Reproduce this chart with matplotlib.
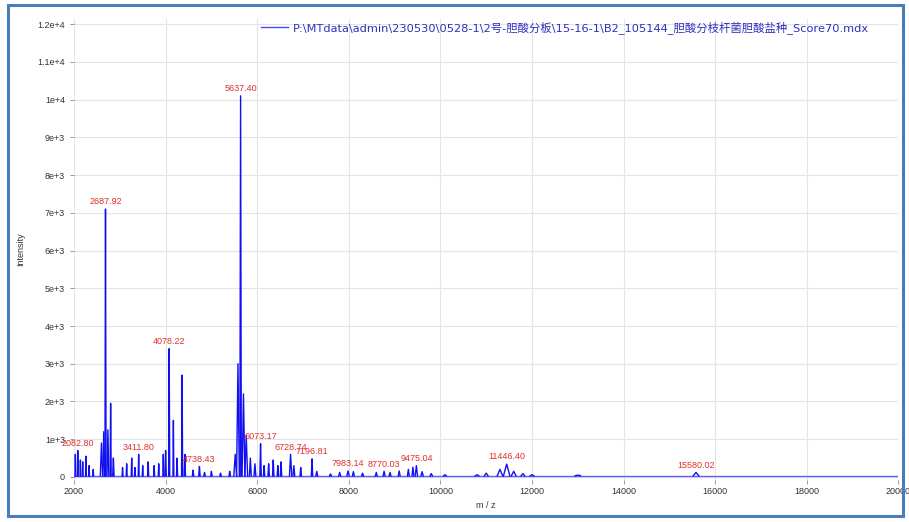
import numpy as np
import matplotlib
matplotlib.use('Agg')
import matplotlib.pyplot as plt
from matplotlib.patches import Rectangle
from matplotlib.ticker import FixedLocator, FixedFormatter

plt.rcParams['font.family'] = ['Liberation Sans', 'Noto Sans CJK SC', 'DejaVu Sans']

# peak list: m/z, intensity, half width (Da)
peak_mz = [2030, 2082.8, 2140, 2190, 2260, 2330, 2420,
           2600, 2650, 2687.92, 2740, 2800, 2860,
           3060, 3150, 3260, 3330, 3411.8, 3500, 3620, 3750, 3850, 3950, 4000,
           4078.22, 4170, 4250, 4360, 4420, 4600, 4738.43, 4850, 5000, 5200, 5400,
           5520, 5580, 5637.4, 5700, 5760, 5850, 5950,
           6073.17, 6150, 6250, 6350, 6450, 6520, 6728.74, 6800, 6950, 7196.81, 7300,
           7600, 7800, 7983.14, 8100, 8300, 8600, 8770.03, 8900, 9100, 9300, 9400,
           9475.04, 9600, 9800, 10100, 10800, 11000, 11300, 11446.4, 11600, 11800, 12000,
           13000, 15580.02]
peak_int = [600, 700, 450, 400, 550, 300, 200,
            900, 1200, 7100, 1250, 1950, 500,
            250, 350, 500, 250, 600, 300, 400, 300, 350, 600, 700,
            3400, 1500, 500, 2700, 600, 180, 280, 120, 150, 100, 150,
            600, 3000, 10100, 2200, 1100, 500, 350,
            880, 300, 350, 450, 300, 400, 600, 300, 250, 480, 150,
            80, 120, 160, 140, 100, 120, 150, 120, 160, 200, 260,
            300, 140, 90, 60, 60, 100, 200, 340, 150, 90, 60,
            50, 120]
peak_w = [8, 8, 8, 8, 8, 8, 8,
          25, 20, 12, 20, 12, 15,
          10, 10, 10, 10, 10, 10, 10, 10, 10, 10, 15,
          12, 10, 12, 12, 15, 15, 15, 15, 15, 15, 15,
          30, 30, 16, 30, 30, 20, 20,
          15, 15, 15, 15, 15, 15, 25, 20, 15, 15, 20,
          20, 20, 25, 20, 20, 20, 20, 20, 20, 20, 20,
          25, 25, 25, 30, 40, 40, 60, 70, 50, 40, 40,
          60, 60]

# labelled peaks
label_mz = [2082.8, 2687.92, 3411.8, 4078.22, 4738.43, 5637.4,
            6073.17, 6728.74, 7196.81, 7983.14, 8770.03, 9475.04, 11446.4, 15580.02]
label_int = [700, 7100, 600, 3400, 280, 10100,
             880, 600, 480, 160, 150, 300, 340, 120]
label_txt = ['2082.80', '2687.92', '3411.80', '4078.22', '4738.43', '5637.40',
             '6073.17', '6728.74', '7196.81', '7983.14', '8770.03', '9475.04',
             '11446.40', '15580.02']

x_ticks = [2000, 4000, 6000, 8000, 10000, 12000, 14000, 16000, 18000, 20000]
y_ticks = [0, 1000, 2000, 3000, 4000, 5000, 6000, 7000, 8000, 9000, 10000, 11000, 12000]
y_labels = ['0', '1e+3', '2e+3', '3e+3', '4e+3', '5e+3', '6e+3', '7e+3', '8e+3',
            '9e+3', '1e+4', '1.1e+4', '1.2e+4']

file_name = ('P:\\MTdata\\admin\\230530\\0528-1\\2号-胆酸分板\\15-16-1\\B2_105144_'
             '胆酸分枝杆菌胆酸盐种_Score70.mdx')

fig = plt.figure(figsize=(9.09, 5.22), dpi=100)
fig.patches.append(Rectangle((0.009, 0.012), 0.984, 0.978, transform=fig.transFigure,
                             fill=False, edgecolor='#4a7ebb', linewidth=2.2))
ax = fig.add_axes([0.0814, 0.0805, 0.907, 0.884])

blue = '#1010f0'
ax.plot([2000, 20000], [30, 30], color='#6060ff', lw=1.0)
for mz, h, w in zip(peak_mz, peak_int, peak_w):
    ax.plot([mz - w, mz, mz + w], [30, h, 30], color=blue, lw=1.0)

for mz, h, t in zip(label_mz, label_int, label_txt):
    ax.annotate(t, (mz, h), xytext=(0, 2), textcoords='offset points',
                ha='center', va='bottom', fontsize=6.5, color='#e03030')

ax.set_xlim(2000, 20000)
ax.set_ylim(-80, 12150)
ax.xaxis.set_major_locator(FixedLocator(x_ticks))
ax.yaxis.set_major_locator(FixedLocator(y_ticks))
ax.yaxis.set_major_formatter(FixedFormatter(y_labels))
ax.grid(True, color='#e4e4e4', lw=0.8)
for s in ax.spines.values():
    s.set_visible(False)
ax.tick_params(labelsize=6.5, colors='#888888', labelcolor='#333333', length=3, width=0.6)
ax.tick_params(axis='x', pad=2)
ax.set_xlabel('m / z', fontsize=6.5, color='#333333', labelpad=4)
ax.set_ylabel('Intensity', fontsize=6.5, color='#333333', labelpad=9)

ax.plot([], [], color='#4a4aff', lw=1.0, label=file_name)
leg = ax.legend(loc='upper right', frameon=False, handlelength=2.4, handletextpad=0.4,
                prop={'family': ['DejaVu Sans', 'Noto Sans CJK SC'], 'size': 8.2},
                borderaxespad=0.0, bbox_to_anchor=(0.97, 1.005))
for t in leg.get_texts():
    t.set_color('#3030c0')

fig.savefig('out.png', dpi=100, facecolor='white')
